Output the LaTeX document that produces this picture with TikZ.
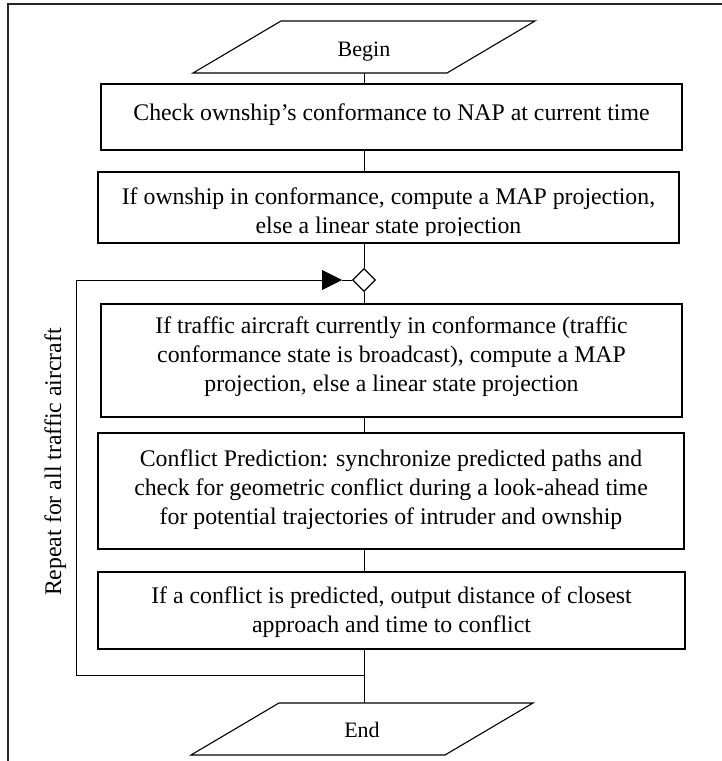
\documentclass[tikz,border=0pt]{standalone}
\usepackage{fontspec}
\setmainfont{Liberation Serif}
\usetikzlibrary{shapes.geometric,arrows.meta}
\begin{document}
\begin{tikzpicture}[x=1pt,y=-1pt,
  every node/.style={font={\fontsize{23.8}{29}\selectfont}},
  box/.style={draw,line width=1.5pt,inner sep=0pt},
  txt/.style={anchor=base,inner sep=0pt},
  term/.style={anchor=base,inner sep=0pt,font={\fontsize{22}{26}\selectfont}},
  side/.style={anchor=base,inner sep=0pt},
  conn/.style={line width=1pt},
  frame/.style={line width=1.3pt,draw=black!85},
  para/.style={line width=1.1pt,line join=miter}]
\useasboundingbox (0,0) rectangle (722,761);
% frame
\coordinate (fb) at (8,761);
\coordinate (ftl) at (8,4);
\coordinate (ftr) at (722,4);
\draw[frame] (fb) -- (ftl) -- (ftr);
% begin
\coordinate (bg1) at (281,21);
\coordinate (bg2) at (535,21);
\coordinate (bg3) at (447,73);
\coordinate (bg4) at (193,73);
\draw[para] (bg1) -- (bg2) -- (bg3) -- (bg4) -- cycle;
\node[term] (begin) at (364,56) {Begin};
\coordinate (beginB) at (364,73);
% boxes
\node[box,minimum width=581pt,minimum height=66pt] (b1) at (391.5,117) {};
\node[txt] (t1) at (391.5,120) {Check ownship’s conformance to NAP at current time};
\node[box,minimum width=581pt,minimum height=71pt] (b2) at (388.5,207.5) {};
\begin{scope}
\clip (98,172) rectangle (679,235);
\node[txt] (t2) at (388.5,204) {\begin{tabular}[t]{@{}c@{}}If ownship in conformance, compute a MAP projection,\\ else a linear state projection\end{tabular}};
\end{scope}
\node[diamond,draw,line width=1.2pt,minimum width=23pt,minimum height=23pt,inner sep=0pt] (d) at (364,280) {};
\node[box,minimum width=581pt,minimum height=113pt] (b3) at (391.5,360.5) {};
\node[txt] (t3) at (391.5,333) {\begin{tabular}[t]{@{}c@{}}If traffic aircraft currently in conformance (traffic\\ conformance state is broadcast), compute a MAP\\ projection, else a linear state projection\end{tabular}};
\node[box,minimum width=586pt,minimum height=116pt] (b4) at (391,491) {};
\node[txt] (t4) at (391,466) {\begin{tabular}[t]{@{}c@{}}Conflict Prediction: synchronize predicted paths and\\ check for geometric conflict during a look-ahead time\\ for potential trajectories of intruder and ownship\end{tabular}};
\node[box,minimum width=587pt,minimum height=77pt] (b5) at (391.5,610.5) {};
\node[txt] (t5) at (391.5,603) {\begin{tabular}[t]{@{}c@{}}If a conflict is predicted, output distance of closest\\ approach and time to conflict\end{tabular}};
% end
\coordinate (en1) at (279,703);
\coordinate (en2) at (533,703);
\coordinate (en3) at (445,755);
\coordinate (en4) at (191,755);
\draw[para] (en1) -- (en2) -- (en3) -- (en4) -- cycle;
\node[term] (end) at (362,737) {End};
\coordinate (endT) at (364,703);
% label
\node[side,rotate=90] (rep) at (61,462) {Repeat for all traffic aircraft};
% connectors
\draw[conn] (beginB) -- (b1.north -| beginB);
\draw[conn] (b1.south -| d) -- (b2.north -| d);
\draw[conn] (b2.south -| d) -- (d.north);
\draw[conn] (d.south) -- (b3.north -| d);
\draw[conn] (b3.south -| d) -- (b4.north -| d);
\draw[conn] (b4.south -| d) -- (b5.north -| d);
\draw[conn] (b5.south -| d) -- (endT);
\coordinate (j) at (364,675);
\coordinate (lb) at (76,675);
\coordinate (lt) at (76,280);
\coordinate (tip) at (342,280);
\draw[conn,line join=miter,-{Triangle[length=20pt,width=20pt]}] (j) -- (lb) -- (lt) -- (tip);
\draw[conn] (tip) -- (d.west);
\end{tikzpicture}
\end{document}
